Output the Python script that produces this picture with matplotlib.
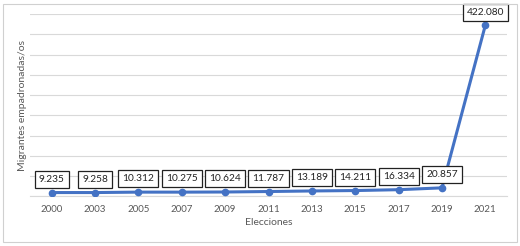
import matplotlib
matplotlib.use('Agg')
import matplotlib.pyplot as plt
from matplotlib.patches import Rectangle

# ========================= DATA ============================================

years = ['2000', '2003', '2005', '2007', '2009', '2011',
         '2013', '2015', '2017', '2019', '2021']
migrantes = [9235, 9258, 10312, 10275, 10624, 11787,
             13189, 14211, 16334, 20857, 422080]
labels = ['9.235', '9.258', '10.312', '10.275', '10.624', '11.787',
          '13.189', '14.211', '16.334', '20.857', '422.080']

# ========================= STYLE ===========================================

plt.rcParams['font.family'] = ['Lato', 'DejaVu Sans']
BLUE = '#4472C4'
GRAY = '#595959'

fig = plt.figure(figsize=(5.2, 2.46), dpi=100)
ax = fig.add_axes([30 / 520, 1 - 196.3 / 246, 477 / 520, 182.3 / 246])

x = list(range(len(years)))
ax.plot(x, migrantes, color=BLUE, linewidth=2.2, marker='o', markersize=4.5,
        zorder=3)

for xi, yi, lab in zip(x, migrantes, labels):
    ax.annotate(lab, (xi, yi), xytext=(0, 9.5), textcoords='offset points',
                ha='center', va='center', fontsize=7.3, color='#222222',
                bbox=dict(boxstyle='square,pad=0.4', fc='white', ec='#222222',
                          lw=0.9), zorder=4)

ax.set_xlim(-0.5, len(years) - 0.5)
ax.set_ylim(0, 450000)
ax.set_yticks(range(0, 450001, 50000))
ax.set_yticklabels([])
ax.tick_params(axis='y', length=0)
ax.set_xticks(x)
ax.set_xticklabels(years, fontsize=7, color=GRAY)
ax.tick_params(axis='x', length=0, pad=6)
ax.grid(axis='y', color='#D9D9D9', linewidth=0.8, zorder=0)
ax.set_axisbelow(True)
for side in ['top', 'right', 'left']:
    ax.spines[side].set_visible(False)
ax.spines['bottom'].set_color('#D9D9D9')
ax.spines['bottom'].set_linewidth(0.8)

ax.set_xlabel('Elecciones', fontsize=7.5, color=GRAY, labelpad=3)
ax.set_ylabel('Migrantes empadronadas/os', fontsize=7.5, color=GRAY)
ax.yaxis.set_label_coords(-0.006, 0.5)

# outer chart border
fig.patches.append(Rectangle((3 / 520, 4 / 246), 514 / 520, 238 / 246,
                             transform=fig.transFigure, fill=False,
                             ec='#D0D0D0', lw=0.8))

plt.savefig('out.png', dpi=100)
